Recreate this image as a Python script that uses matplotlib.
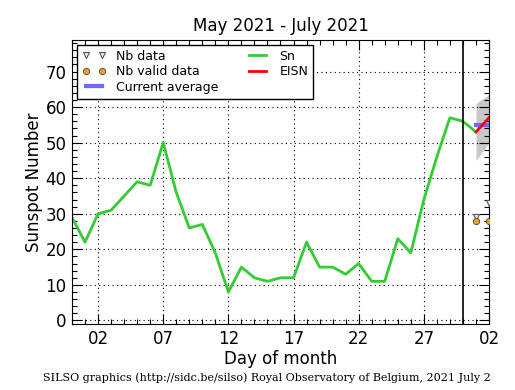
import matplotlib
matplotlib.use('Agg')
import matplotlib.pyplot as plt
from matplotlib.ticker import MultipleLocator, FixedLocator

# Dias desde el 31 de mayo (0) hasta el 1 de julio (31)
sn = [29, 22, 30, 31, 35, 39, 38, 50, 36, 26, 27, 19, 8, 15, 12, 11,
      12, 12, 22, 15, 15, 13, 16, 11, 11, 23, 19, 34, 46, 57, 56, 53]
dias = list(range(len(sn)))

# Ultimos dias: EISN, promedio, banda de error y numero de estaciones
diasEisn = [31, 32]
eisn = [53, 57]
eisnBajo = [45, 50]
eisnAlto = [61, 63.5]
promedio = [55, 55]
nbData = [29, 33]
nbValid = [28, 28]

etiquetasX = ['02', '07', '12', '17', '22', '27', '02']
posicionesX = [2, 7, 12, 17, 22, 27, 32]

fig = plt.figure(figsize=(5.15, 3.9), dpi=100)
ax = fig.add_axes([0.1398, 0.1692, 0.8097, 0.7295])

ax.fill_between(diasEisn, eisnBajo, eisnAlto, color='#c8c8c8', lw=0, zorder=1)
ax.plot(diasEisn, nbData, 'v', ms=4, mfc='#e8e8e8', mec='#555555', mew=0.8,
        label='Nb data', zorder=4)
ax.plot(diasEisn, nbValid, 'o', ms=4.5, mfc='#f0a020', mec='#444444', mew=0.6,
        label='Nb valid data', zorder=4)
ax.plot(diasEisn, promedio, color='#6a6aff', lw=3, label='Current average', zorder=3)
ax.plot(dias, sn, color='#33cc33', lw=2, label='Sn', zorder=2)
ax.plot(diasEisn, eisn, color='red', lw=2, label='EISN', zorder=3)
ax.axvline(30, color='black', lw=1.2, zorder=5)

ax.set_xlim(0, 32)
ax.set_ylim(-1, 79)
ax.xaxis.set_major_locator(FixedLocator(posicionesX))
ax.set_xticklabels(etiquetasX)
ax.xaxis.set_minor_locator(MultipleLocator(1))
ax.yaxis.set_major_locator(MultipleLocator(10))
ax.yaxis.set_minor_locator(MultipleLocator(2))
ax.tick_params(which='both', direction='in', top=True, right=True, labelsize=12)
ax.tick_params(which='major', length=7, width=0.8, pad=4)
ax.tick_params(which='minor', length=3.5, width=0.8)
ax.grid(True, which='major', color='black', linestyle=(0, (1, 3)), lw=0.8)

ax.set_title('May 2021 - July 2021', fontsize=12)
ax.set_xlabel('Day of month', fontsize=12, labelpad=2)
ax.set_ylabel('Sunspot Number', fontsize=12, labelpad=2)

ax.legend(loc='upper left', ncol=2, fontsize=9, numpoints=2, fancybox=False,
          edgecolor='black', framealpha=1, borderaxespad=0.4, columnspacing=2.2,
          handlelength=1.9, handletextpad=0.8, labelspacing=0.2)

fig.text(0.518, 0.022, 'SILSO graphics (http://sidc.be/silso) Royal Observatory of Belgium, 2021 July 2',
         ha='center', fontsize=8, family='DejaVu Serif')

fig.savefig('out.png', dpi=100)
